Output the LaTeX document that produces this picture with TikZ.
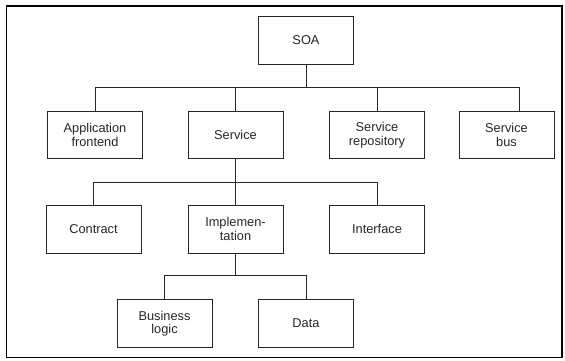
\documentclass[tikz,border=0pt]{standalone}
\usepackage{fontspec}
\setmainfont{Liberation Sans}
\begin{document}
\begin{tikzpicture}[x=1pt,y=-1pt,
  box/.style={draw=black!85, line width=0.9pt, minimum width=95pt, minimum height=47.5pt,
    align=center, inner sep=0pt, text=black!85, font=\fontsize{12.8}{13.6}\selectfont},
  conn/.style={draw=black!85, line width=0.9pt}]
\useasboundingbox (0,0) rectangle (565,360);
\draw[line width=1.4pt] (6.5,6) rectangle (562,357.5);
% nodes
\node[box] (soa)  at (306,40.5)   {SOA};
\node[box] (app)  at (95,135)     {Application\\frontend};
\node[box] (svc)  at (235.5,135)  {Service};
\node[box] (repo) at (377,135)    {Service\\repository};
\node[box] (sbus) at (506.5,135)  {Service\\bus};
\node[box] (con)  at (93.5,229.2) {Contract};
\node[box] (impl) at (235.5,229.2){Implemen-\\tation};
\node[box] (intf) at (377,229.2)  {Interface};
\node[box] (biz)  at (164.5,323.5){Business\\logic};
\node[box] (data) at (306,323.5)  {Data};
% junctions
\coordinate (j1) at (306,87.7);
\coordinate (j2) at (235.5,182.3);
\coordinate (j3) at (235.5,275.7);
% connectors
\draw[conn] (soa.south) -- (j1);
\draw[conn] (app.north) |- (j1) -| ([xshift=12.5pt]sbus.north);
\draw[conn] (svc.north) -- (svc.north |- j1);
\draw[conn] (repo.north) -- (repo.north |- j1);
\draw[conn] (svc.south) -- (j2);
\draw[conn] (con.north) |- (j2) -| (intf.north);
\draw[conn] (impl.north) -- (j2);
\draw[conn] (impl.south) -- (j3);
\draw[conn] (biz.north) |- (j3) -| (data.north);
\end{tikzpicture}
\end{document}
